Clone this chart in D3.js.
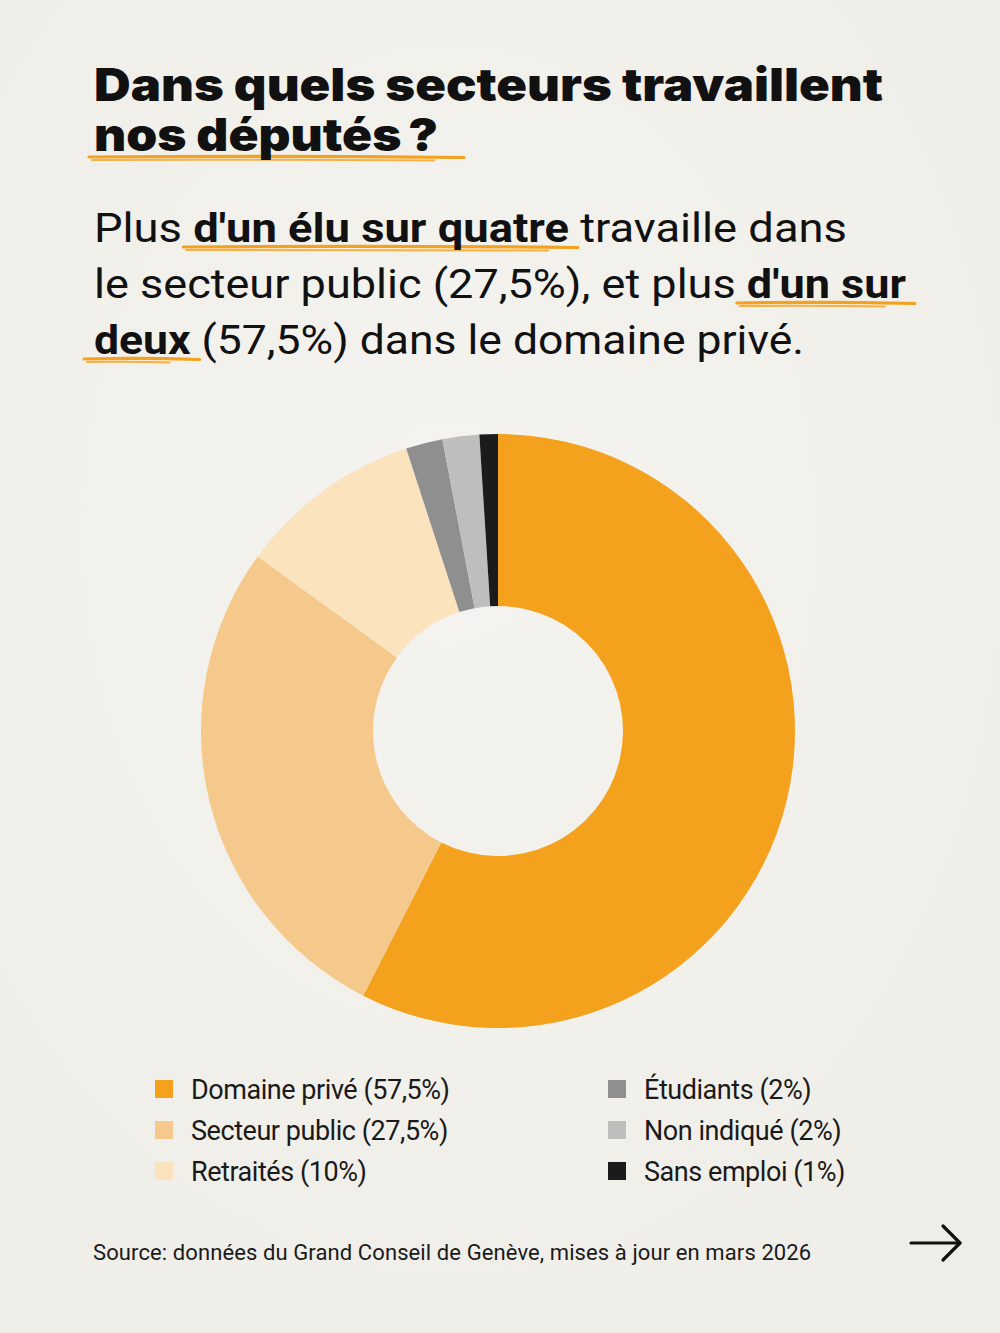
<!DOCTYPE html>
<html><head><meta charset="utf-8">
<script src="https://cdn.jsdelivr.net/npm/d3@7"></script>
<style>
html,body{margin:0;padding:0;background:#f2f0eb;}
svg{display:block;}
</style></head>
<body>
<svg id="chart" width="1000" height="1333"></svg>
<script>
const categories = ["Domaine privé", "Secteur public", "Retraités", "Étudiants", "Non indiqué", "Sans emploi"];
const values = [57.5, 27.5, 10, 2, 2, 1];
const valueLabels = ["57,5%", "27,5%", "10%", "2%", "2%", "1%"];
const colors = ["#f4a11d", "#f5c98b", "#fae3bd", "#8f8f8f", "#bfbebe", "#1b1b1b"];

const svg = d3.select("#chart");
const W = 1000, H = 1333;
const orange = "#f4a11d";

// background paper
const defs = svg.append("defs");
const rg = defs.append("radialGradient").attr("id","bg").attr("cx","45%").attr("cy","40%").attr("r","75%");
rg.append("stop").attr("offset","0%").attr("stop-color","#f5f3ef");
rg.append("stop").attr("offset","100%").attr("stop-color","#efede7");
svg.append("rect").attr("width",W).attr("height",H).attr("fill","url(#bg)");

const under = svg.append("g");

// Title
const title = svg.append("g").attr("font-family","Inter, 'DejaVu Sans', sans-serif").attr("font-weight",900).attr("fill","#111");
title.append("text").attr("x",94).attr("y",101).attr("font-size",45).text("Dans quels secteurs travaillent")
  .attr("textLength",789).attr("lengthAdjust","spacingAndGlyphs");
title.append("text").attr("x",94).attr("y",151).attr("font-size",45).text("nos députés\u2009?")
  .attr("textLength",344).attr("lengthAdjust","spacingAndGlyphs");

function brush(x1, x2, y) {
  const g = under.append("g").attr("fill","none").attr("stroke",orange).attr("stroke-linecap","round");
  g.append("path").attr("d",`M${x1},${y} Q${(x1+x2)/2},${y-1.5} ${x2},${y+0.5}`).attr("stroke-width",3.2);
  g.append("path").attr("d",`M${x1+3},${y+3} Q${(x1+x2)/2},${y+2.5} ${x2-30},${y+3.5}`).attr("stroke-width",2).attr("opacity",0.8);
}
brush(89, 464, 157);

// Body text
const body = svg.append("g").attr("font-family","Roboto, sans-serif").attr("fill","#111").attr("font-size",41);
const lines = [
  {y:242, parts:[["Plus ",false],["d'un élu sur quatre",true],[" travaille dans",false]], w:753},
  {y:298, parts:[["le secteur public (27,5%), et plus ",false],["d'un sur",true]], w:812},
  {y:354, parts:[["deux",true],[" (57,5%) dans le domaine privé.",false]], w:710}
];
const underl = [];
lines.forEach(l => {
  const t = body.append("text").attr("x",94).attr("y",l.y);
  const spans = l.parts.map(p => t.append("tspan").attr("font-weight", p[1] ? "bold" : "normal").text(p[0]));
  t.attr("textLength", l.w).attr("lengthAdjust","spacingAndGlyphs");
  l.parts.forEach((p,i) => {
    if (p[1]) {
      const node = spans[i].node();
      const n = node.getNumberOfChars();
      const s = node.getStartPositionOfChar(0).x;
      const e = node.getEndPositionOfChar(n-1).x;
      underl.push([s-10, e+9, l.y+5]);
    }
  });
});
underl.forEach(u => brush(u[0], u[1], u[2]));

// Donut
const cx = 498, cy = 731, R = 297, r = 125;
const pie = d3.pie().sort(null).value(d => d);
const arc = d3.arc().innerRadius(r).outerRadius(R);
svg.append("g").attr("transform",`translate(${cx},${cy})`)
  .selectAll("path").data(pie(values)).join("path")
  .attr("d", arc).attr("fill", (d,i) => colors[i]);

// Legend
const leg = svg.append("g").attr("font-family","Roboto, sans-serif").attr("font-size",27).attr("letter-spacing",-0.45).attr("fill","#1a1a1a");
categories.forEach((c,i) => {
  const col = Math.floor(i/3), row = i%3;
  const x = col === 0 ? 155 : 608;
  const y = 1089 + row*41;
  leg.append("rect").attr("x",x).attr("y",y-9).attr("width",18).attr("height",18).attr("fill",colors[i]);
  leg.append("text").attr("x",x+36).attr("y",y+10).text(`${c} (${valueLabels[i]})`);
});

// Source
svg.append("text").attr("x",93).attr("y",1260).attr("font-family","Roboto, sans-serif").attr("font-size",22).attr("letter-spacing",0.1).attr("fill","#1a1a1a")
  .text("Source: données du Grand Conseil de Genève, mises à jour en mars 2026");

// Arrow
const ar = svg.append("g").attr("stroke","#111").attr("stroke-width",3.2).attr("fill","none").attr("stroke-linecap","round").attr("stroke-linejoin","round");
ar.append("path").attr("d","M911,1243 H960");
ar.append("path").attr("d","M943,1226 L960,1243 L943,1260");
</script>
</body></html>
